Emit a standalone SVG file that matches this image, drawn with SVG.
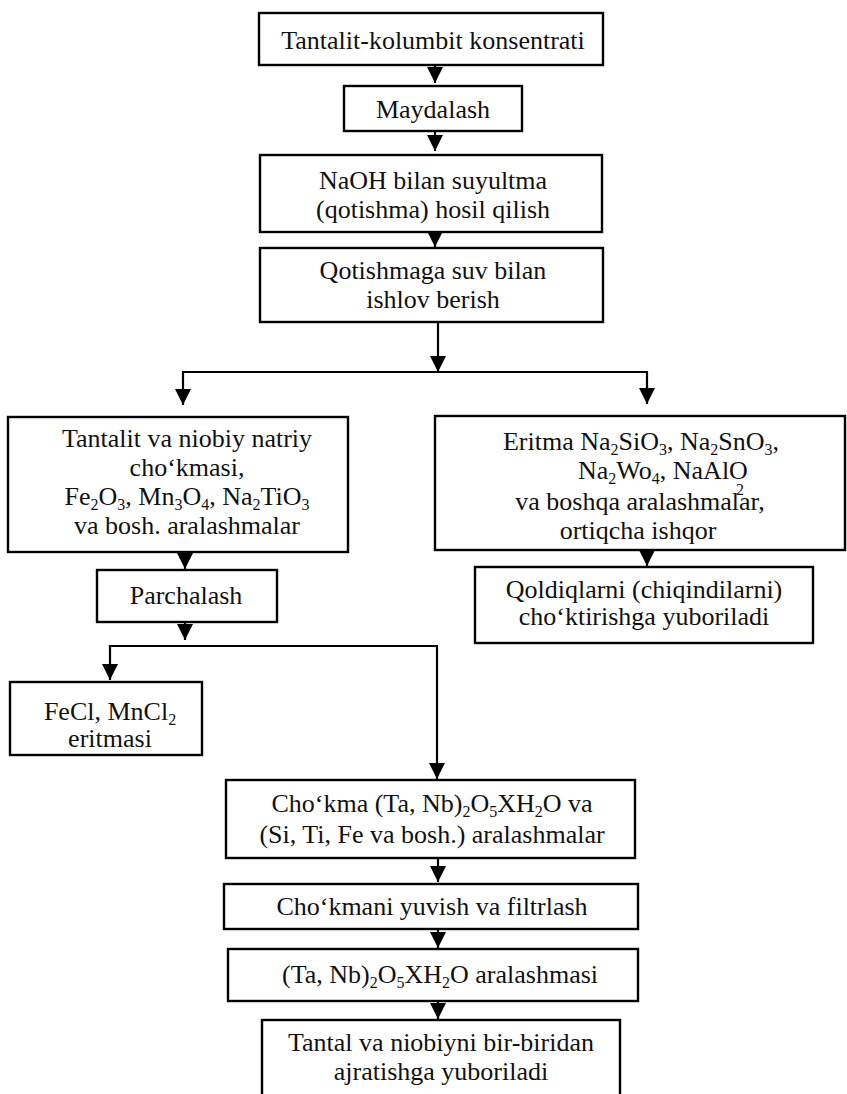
<svg xmlns="http://www.w3.org/2000/svg" width="847" height="1094" viewBox="0 0 847 1094">
<style>
.box{fill:#fff;stroke:#000;stroke-width:2.4}
.t{font-family:"Liberation Serif","Times New Roman",serif;font-size:26px;fill:#111;text-anchor:middle}
.s{font-size:16px}
.c{fill:none;stroke:#000;stroke-width:2.2}
</style>
<defs>
<marker id="ah" viewBox="0 0 16 16" refX="16" refY="8" markerWidth="16" markerHeight="16" markerUnits="userSpaceOnUse" orient="auto"><path d="M0,0 L16,8 L0,16 z" fill="#000"/></marker>
</defs>
<rect width="847" height="1094" fill="#fff"/>
<g id="connectors">
<path class="c" d="M435,65 V83" marker-end="url(#ah)"/>
<path class="c" d="M435,131 V151" marker-end="url(#ah)"/>
<path class="c" d="M435,232 V247" marker-end="url(#ah)"/>
<path class="c" d="M438,322 V372" marker-end="url(#ah)"/>
<path class="c" d="M183,372 H647"/>
<path class="c" d="M183,371 V405" marker-end="url(#ah)"/>
<path class="c" d="M647,371 V404" marker-end="url(#ah)"/>
<path class="c" d="M647,550 V566" marker-end="url(#ah)"/>
<path class="c" d="M185,552 V569" marker-end="url(#ah)"/>
<path class="c" d="M185,622 V640" marker-end="url(#ah)"/>
<path class="c" d="M110,646 H437"/>
<path class="c" d="M110,645 V680" marker-end="url(#ah)"/>
<path class="c" d="M437,645 V779" marker-end="url(#ah)"/>
<path class="c" d="M438,858 V882" marker-end="url(#ah)"/>
<path class="c" d="M438,929 V948" marker-end="url(#ah)"/>
<path class="c" d="M438,1001 V1019" marker-end="url(#ah)"/>
</g>
<g id="n1"><rect class="box" x="259" y="13" width="344" height="52"/><text class="t" x="433" y="49">Tantalit-kolumbit konsentrati</text></g>
<g id="n2"><rect class="box" x="344" y="86" width="178" height="45"/><text class="t" x="433" y="118">Maydalash</text></g>
<g id="n3"><rect class="box" x="260" y="155" width="342" height="77"/><text class="t" x="433" y="189">NaOH bilan suyultma</text><text class="t" x="433" y="218">(qotishma) hosil qilish</text></g>
<g id="n4"><rect class="box" x="260" y="248" width="343" height="74"/><text class="t" x="433" y="279">Qotishmaga suv bilan</text><text class="t" x="433" y="308">ishlov berish</text></g>
<g id="n5"><rect class="box" x="8" y="417" width="340" height="135"/>
<text class="t" x="187" y="447">Tantalit va niobiy natriy</text>
<text class="t" x="187" y="476">cho‘kmasi,</text>
<text class="t" x="187" y="505">Fe<tspan class="s" dy="5">2</tspan><tspan dy="-5">O</tspan><tspan class="s" dy="5">3</tspan><tspan dy="-5">, Mn</tspan><tspan class="s" dy="5">3</tspan><tspan dy="-5">O</tspan><tspan class="s" dy="5">4</tspan><tspan dy="-5">, Na</tspan><tspan class="s" dy="5">2</tspan><tspan dy="-5">TiO</tspan><tspan class="s" dy="5">3</tspan></text>
<text class="t" x="187" y="534">va bosh. aralashmalar</text></g>
<g id="n6"><rect class="box" x="435" y="416" width="410" height="134"/>
<text class="t" x="641" y="450">Eritma Na<tspan class="s" dy="5">2</tspan><tspan dy="-5">SiO</tspan><tspan class="s" dy="5">3</tspan><tspan dy="-5">, Na</tspan><tspan class="s" dy="5">2</tspan><tspan dy="-5">SnO</tspan><tspan class="s" dy="5">3</tspan><tspan dy="-5">,</tspan></text>
<text class="t" x="578" y="479" style="text-anchor:start">Na<tspan class="s" dy="5">2</tspan><tspan dy="-5">Wo</tspan><tspan class="s" dy="5">4</tspan><tspan dy="-5">, NaAlO</tspan><tspan class="s" x="736" y="495">2</tspan></text>
<text class="t" x="640" y="510">va boshqa aralashmalar,</text>
<text class="t" x="638" y="539">ortiqcha ishqor</text></g>
<g id="n7"><rect class="box" x="475" y="567" width="338" height="76"/><text class="t" x="644" y="598">Qoldiqlarni (chiqindilarni)</text><text class="t" x="644" y="625">cho‘ktirishga yuboriladi</text></g>
<g id="n8"><rect class="box" x="97" y="570" width="180" height="52"/><text class="t" x="186" y="604">Parchalash</text></g>
<g id="n9"><rect class="box" x="10" y="682" width="192" height="73"/><text class="t" x="110" y="720">FeCl, MnCl<tspan class="s" dy="5">2</tspan></text><text class="t" x="110" y="747">eritmasi</text></g>
<g id="n10"><rect class="box" x="226" y="780" width="409" height="78"/><text class="t" x="432" y="812">Cho‘kma (Ta, Nb)<tspan class="s" dy="5">2</tspan><tspan dy="-5">O</tspan><tspan class="s" dy="5">5</tspan><tspan dy="-5">XH</tspan><tspan class="s" dy="5">2</tspan><tspan dy="-5">O va</tspan></text><text class="t" x="432" y="843">(Si, Ti, Fe va bosh.) aralashmalar</text></g>
<g id="n11"><rect class="box" x="224" y="884" width="414" height="45"/><text class="t" x="432" y="915">Cho‘kmani yuvish va filtrlash</text></g>
<g id="n12"><rect class="box" x="228" y="949" width="410" height="52"/><text class="t" x="440" y="983">(Ta, Nb)<tspan class="s" dy="5">2</tspan><tspan dy="-5">O</tspan><tspan class="s" dy="5">5</tspan><tspan dy="-5">XH</tspan><tspan class="s" dy="5">2</tspan><tspan dy="-5">O aralashmasi</tspan></text></g>
<g id="n13"><rect class="box" x="262" y="1020" width="358" height="90"/><text class="t" x="441" y="1051">Tantal va niobiyni bir-biridan</text><text class="t" x="441" y="1080">ajratishga yuboriladi</text></g>
</svg>
